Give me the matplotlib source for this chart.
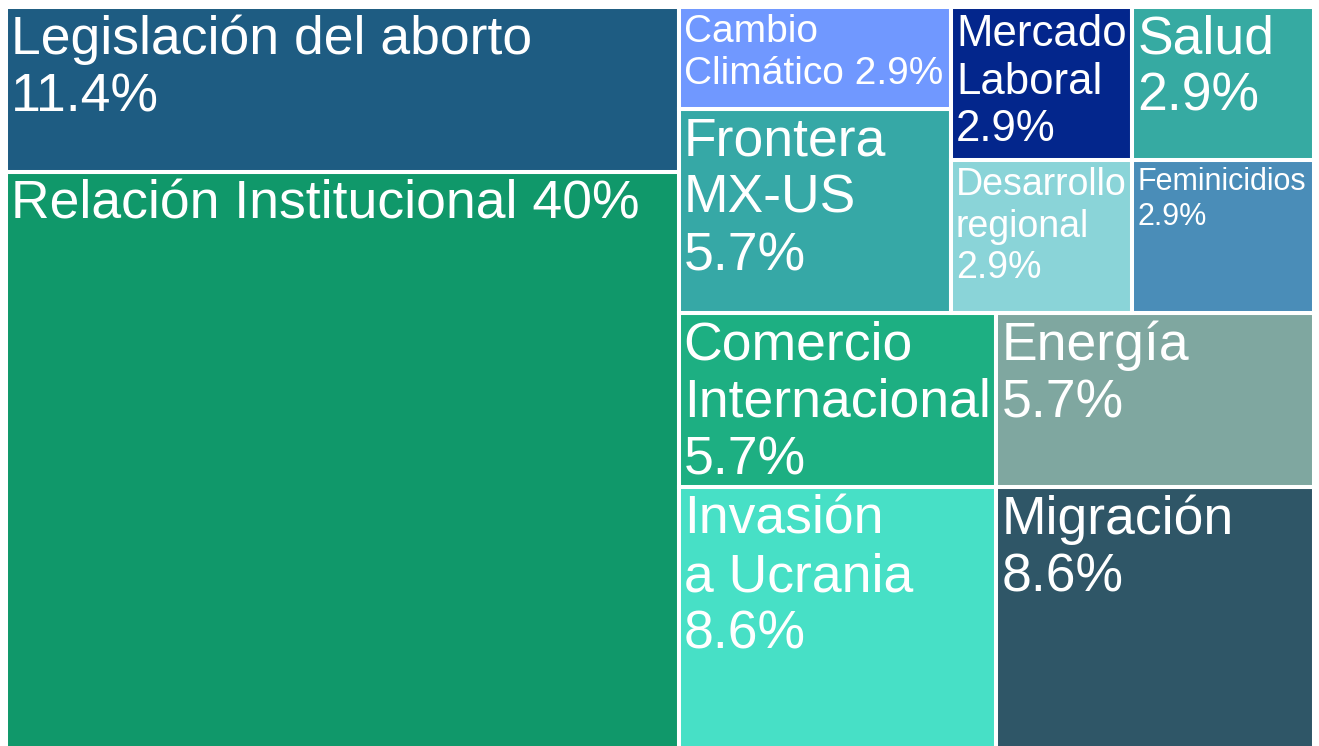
import matplotlib
matplotlib.use("Agg")
import matplotlib.pyplot as plt
import matplotlib.transforms as mtransforms
from matplotlib.patches import Rectangle
import numpy as np

# menciones por tema (35 en total)
topics = ["Relación Institucional", "Legislación del aborto", "Invasión a Ucrania", "Migración",
          "Comercio Internacional", "Energía", "Frontera MX-US", "Cambio Climático",
          "Desarrollo regional", "Feminicidios", "Mercado Laboral", "Salud"]
counts = [14, 4, 3, 3, 2, 2, 2, 1, 1, 1, 1, 1]
# texto de cada caja, {} se llena con el porcentaje
label_templates = ["Relación Institucional {}", "Legislación del aborto\n{}", "Invasión\na Ucrania\n{}",
                   "Migración\n{}", "Comercio\nInternacional\n{}", "Energía\n{}", "Frontera\nMX-US\n{}",
                   "Cambio\nClimático {}", "Desarrollo\nregional\n{}", "Feminicidios\n{}",
                   "Mercado\nLaboral\n{}", "Salud\n{}"]
colors = ["#10986a", "#1e5c82", "#47e0c6", "#2f5667", "#1daf82", "#7fa7a0",
          "#36a8a6", "#7098ff", "#8ad4d8", "#4a8db8", "#03268c", "#36aaa2"]


# squarified treemap (Bruls et al.), same steps as the squarify package
def layout_row(sizes, x, y, dx, dy):
    width = sum(sizes) / dy
    rects = []
    for s in sizes:
        rects.append((x, y, width, s / width))
        y += s / width
    return rects


def layout_col(sizes, x, y, dx, dy):
    height = sum(sizes) / dx
    rects = []
    for s in sizes:
        rects.append((x, y, s / height, height))
        x += s / height
    return rects


def layout(sizes, x, y, dx, dy):
    if dx >= dy:
        return layout_row(sizes, x, y, dx, dy)
    return layout_col(sizes, x, y, dx, dy)


def leftover(sizes, x, y, dx, dy):
    if dx >= dy:
        w = sum(sizes) / dy
        return x + w, y, dx - w, dy
    h = sum(sizes) / dx
    return x, y + h, dx, dy - h


def worst(sizes, x, y, dx, dy):
    return max(max(w / h, h / w) for _, _, w, h in layout(sizes, x, y, dx, dy))


def squarify(sizes, x, y, dx, dy):
    if len(sizes) == 0:
        return []
    if len(sizes) == 1:
        return layout(sizes, x, y, dx, dy)
    i = 1
    while i < len(sizes) and worst(sizes[:i], x, y, dx, dy) >= worst(sizes[:i + 1], x, y, dx, dy):
        i += 1
    lx, ly, ldx, ldy = leftover(sizes[:i], x, y, dx, dy)
    return layout(sizes[:i], x, y, dx, dy) + squarify(sizes[i:], lx, ly, ldx, ldy)


total = sum(counts)
order = sorted(range(len(counts)), key=lambda k: (-counts[k], topics[k]))
sizes = [counts[k] * 100 * 100 / total for k in order]
rects = squarify(sizes, 0, 0, 100, 100)

fig = plt.figure(figsize=(13.19, 7.46), dpi=100)
ax_w, ax_h = 1308, 742.5
ax = fig.add_axes([6 / 1319, (746 - 749.5) / 746, ax_w / 1319, ax_h / 746])
ax.set_xlim(0, 100)
ax.set_ylim(0, 100)
ax.axis("off")

renderer = fig.canvas.get_renderer()
text_tr = mtransforms.offset_copy(ax.transData, fig=fig, x=5, y=-7.5, units="dots")

for k, (x, y, w, h) in zip(order, rects):
    ax.add_patch(Rectangle((x, y), w, h, facecolor=colors[k], edgecolor="white", linewidth=2.9))
    pct = "{:g}%".format(round(100 * counts[k] / total, 1))
    t = ax.text(x, y + h, label_templates[k].format(pct), transform=text_tr,
                ha="left", va="top", color="white", family="Liberation Sans",
                fontsize=38.5, linespacing=1.19)
    # shrink the text until it fits in its box
    avail_w = w / 100 * ax_w - 9
    avail_h = h / 100 * ax_h - 6
    for s in np.arange(38.5, 6, -0.5):
        t.set_fontsize(s)
        bb = t.get_window_extent(renderer)
        if bb.width <= avail_w and bb.height <= avail_h:
            break

plt.savefig("out.png", dpi=100)
